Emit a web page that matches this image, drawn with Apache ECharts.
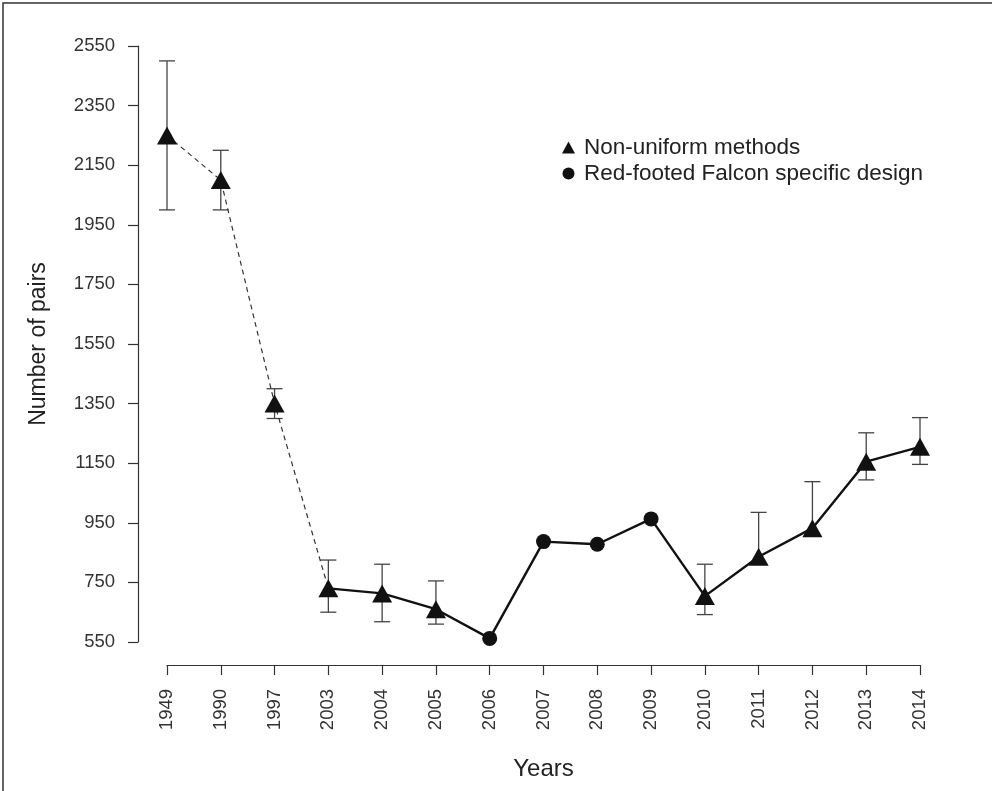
<!DOCTYPE html>
<html>
<head>
<meta charset="utf-8">
<script src="https://cdn.jsdelivr.net/npm/echarts@6/dist/echarts.min.js"></script>
<style>
html,body{margin:0;padding:0;background:#fff;}
#chart{width:992px;height:791px;}
</style>
</head>
<body>
<div id="chart"></div>
<script>
// ---- data ----
const years = ['1949','1990','1997','2003','2004','2005','2006','2007','2008','2009','2010','2011','2012','2013','2014'];
const pairs = [2250, 2100, 1350, 730, 713, 660, 562, 887, 878, 963, 704, 836, 932, 1155, 1205];
const errLow  = [2000, 2000, 1300, 650, 618, 610, null, null, null, null, 642, null, null, 1094, 1146];
const errHigh = [2500, 2200, 1400, 825, 811, 755, null, null, null, null, 811, 985, 1088, 1252, 1303];
// method: 'T' = Non-uniform methods (triangle), 'C' = Red-footed Falcon specific design (circle)
const method = ['T','T','T','T','T','T','C','C','C','C','T','T','T','T','T'];
const dashedEndIndex = 3; // dashed line 1949–2003, solid afterwards
const yTicks = [550, 750, 950, 1150, 1350, 1550, 1750, 1950, 2150, 2350, 2550];

const FONT = '"Liberation Sans", Arial, sans-serif';
const dashedData = pairs.map((v, i) => i <= dashedEndIndex ? v : '-');
const solidData = pairs.map((v, i) => i >= dashedEndIndex ? v : '-');
const triData = pairs.map((v, i) => method[i] === 'T' ? v : '-');
const cirData = pairs.map((v, i) => method[i] === 'C' ? v : '-');
const errData = [];
pairs.forEach((v, i) => {
  if (errHigh[i] != null || errLow[i] != null) {
    errData.push([i, v, errLow[i] == null ? NaN : errLow[i], errHigh[i] == null ? NaN : errHigh[i]]);
  }
});

const chart = echarts.init(document.getElementById('chart'), null, {renderer: 'canvas'});
const option = {
  backgroundColor: '#fff',
  animation: false,
  textStyle: {fontFamily: FONT},
  graphic: [{
    type: 'rect', silent: true, z: 100,
    shape: {x: 3, y: 3, width: 1100, height: 900},
    style: {fill: 'none', stroke: '#333', lineWidth: 1.5}
  }],
  grid: {left: 167, right: 72, top: 46, bottom: 149, containLabel: false},
  legend: {
    orient: 'vertical', left: 557, top: 131, itemGap: 3,
    itemWidth: 13, itemHeight: 12,
    textStyle: {fontSize: 22.5, color: '#222', fontFamily: FONT, padding: [0, 0, 0, 4]},
    data: ['Non-uniform methods', 'Red-footed Falcon specific design']
  },
  xAxis: {
    type: 'category', data: years, boundaryGap: false, offset: 23,
    axisLine: {lineStyle: {color: '#333', width: 1.2}},
    axisTick: {length: 10, lineStyle: {color: '#333', width: 1.2}, alignWithLabel: true},
    axisLabel: {rotate: 90, margin: 24, fontSize: 18.5, color: '#333', fontFamily: FONT, interval: 0},
    splitLine: {show: false},
    name: 'Years', nameLocation: 'middle', nameGap: 92,
    nameTextStyle: {fontSize: 24, color: '#222', fontFamily: FONT}
  },
  yAxis: {
    type: 'value', min: 550, max: 2550, offset: 29,
    axisLine: {show: true, lineStyle: {color: '#333', width: 1.2}},
    axisTick: {show: true, length: 10, lineStyle: {color: '#333', width: 1.2}, customValues: yTicks},
    axisLabel: {margin: 23, fontSize: 18.5, color: '#333', fontFamily: FONT, customValues: yTicks,
      formatter: function (v) { return String(v); }},
    splitLine: {show: false},
    name: 'Number of pairs', nameLocation: 'middle', nameGap: 88,
    nameTextStyle: {fontSize: 23, color: '#222', fontFamily: FONT}
  },
  series: [
    {
      type: 'custom', name: 'err', z: 1, silent: true,
      renderItem: function (params, api) {
        const idx = api.value(0), v = api.value(1), lo = api.value(2), hi = api.value(3);
        const half = 8;
        const hasLo = !isNaN(lo), hasHi = !isNaN(hi);
        const pTop = api.coord([idx, hasHi ? hi : v]);
        const pBot = api.coord([idx, hasLo ? lo : v]);
        const st = {stroke: '#444', lineWidth: 1.3};
        const children = [{type: 'line', shape: {x1: pTop[0], y1: pTop[1], x2: pBot[0], y2: pBot[1]}, style: st}];
        if (hasHi) children.push({type: 'line', shape: {x1: pTop[0] - half, y1: pTop[1], x2: pTop[0] + half, y2: pTop[1]}, style: st});
        if (hasLo) children.push({type: 'line', shape: {x1: pBot[0] - half, y1: pBot[1], x2: pBot[0] + half, y2: pBot[1]}, style: st});
        return {type: 'group', children: children};
      },
      encode: {x: 0, y: [2, 3]},
      data: errData
    },
    {
      type: 'line', name: 'dashed', data: dashedData, z: 2, silent: true,
      showSymbol: false, symbol: 'none',
      lineStyle: {color: '#333', width: 1.2, type: [5, 4]}
    },
    {
      type: 'line', name: 'solid', data: solidData, z: 2, silent: true,
      showSymbol: false, symbol: 'none',
      lineStyle: {color: '#111', width: 2.4}
    },
    {
      type: 'scatter', name: 'Non-uniform methods', data: triData, z: 3,
      symbol: 'triangle', symbolSize: [20, 18],
      itemStyle: {color: '#111', opacity: 1}
    },
    {
      type: 'scatter', name: 'Red-footed Falcon specific design', data: cirData, z: 3,
      symbol: 'circle', symbolSize: 15,
      itemStyle: {color: '#111', opacity: 1}
    }
  ]
};
chart.setOption(option);
</script>
</body>
</html>
